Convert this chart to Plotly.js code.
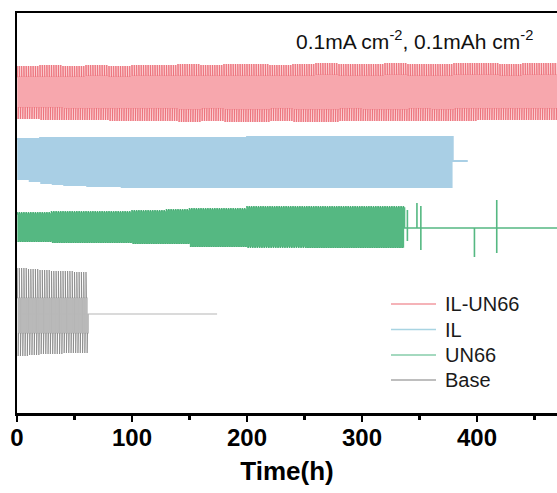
<!DOCTYPE html>
<html><head><meta charset="utf-8">
<script src="https://cdn.plot.ly/plotly-3.0.1.min.js"></script>
<style>html,body{margin:0;padding:0;background:#fff}#chart{width:557px;height:493px}</style>
</head><body><div id="chart"></div>
<script>
// ---- axis ----
const xTickVals = [0, 100, 200, 300, 400];
const xTickText = ['0', '100', '200', '300', '400'];
const xMinorVals = [50, 150, 250, 350, 450];
const seriesNames = ['IL-UN66', 'IL', 'UN66', 'Base'];
const seriesColors = ['#f7a7ad', '#a9cfe5', '#55b882', '#b5b5b5'];
const legendColors = ['#f29aa1', '#a8d4e2', '#86cdaa', '#a8a8a8'];

// one half-cycle (h): 0.1 mAh cm-2 at 0.1 mA cm-2
const halfCycleH = 1;

// ---- IL-UN66 (offset voltage, arbitrary units) ----
const redT      = [0, 20, 40, 60, 80, 100, 120, 140, 160, 180, 200, 220, 240, 260, 280, 300, 320, 340, 360, 380, 400, 420, 440, 460];
const redPeakHi = [347, 348, 347, 348, 347, 348, 348, 349, 348, 349, 349, 348, 349, 350, 349, 349, 350, 349, 349, 350, 350, 349, 350, 350];
const redPlatHi = [336, 336, 336, 337, 336, 337, 337, 337, 337, 337, 337, 337, 337, 338, 337, 337, 338, 337, 337, 338, 338, 337, 338, 338];
const redPlatLo = [306, 306, 305, 305, 305, 305, 305, 304, 305, 304, 304, 305, 304, 304, 305, 304, 304, 305, 304, 305, 305, 305, 305, 305];
const redPeakLo = [294, 293, 293, 293, 292, 292, 292, 291, 292, 291, 291, 292, 291, 291, 292, 292, 292, 292, 292, 292, 293, 293, 293, 293];
const redEnd = 480;

// ---- IL ----
const blueT      = [0, 10, 20, 30, 40, 50, 60, 75, 90, 150, 200, 250, 300, 350];
const bluePeakHi = [275, 275, 276, 276, 276, 276, 276, 276, 276, 276, 277, 277, 277, 277];
const bluePlatHi = [274, 274, 275, 275, 275, 275, 275, 275, 275, 275, 276, 276, 276, 276];
const bluePlatLo = [234, 232, 230, 229, 228, 228, 227, 227, 226, 226, 226, 226, 226, 226];
const bluePeakLo = [233, 231, 229, 228, 227, 227, 226, 226, 225, 225, 225, 225, 225, 225];
const blueEnd = 379;
const blueFlatY = 252;
const blueFlatEnd = 392;

// ---- UN66 ----
const greenT      = [0, 30, 60, 100, 130, 150, 200, 250, 300];
const greenPeakHi = [201, 202, 202, 203, 204, 205, 207, 207, 207];
const greenPlatHi = [199, 200, 200, 201, 202, 203, 205, 205, 205];
const greenPlatLo = [172, 171, 171, 170, 170, 167, 167, 166, 166];
const greenPeakLo = [171, 170, 170, 169, 169, 166, 165, 165, 165];
const greenEnd = 337;
const greenFlatY = 185;
const greenFlatEnd = 480;
const greenSpikeT  = [339.5, 347.8, 351.2, 397.8, 417.2];
const greenSpikeHi = [203, 210, 207, 185, 213];
const greenSpikeLo = [172, 185, 163, 156, 160];

// ---- Base ----
const grayT      = [0, 10, 20, 30, 40, 50];
const grayPeakHi = [145, 144, 143, 142, 142, 141];
const grayPlatHi = [115, 115, 115, 115, 115, 115];
const grayPlatLo = [80, 80, 80, 80, 80, 80];
const grayPeakLo = [57, 58, 59, 59, 60, 60];
const grayEnd = 62;
const grayFlatY = 99;
const grayFlatEnd = 174;

function build(T, pkHi, plHi, plLo, pkLo, tEnd, relax) {
  const main = {x: [], y: []}, spike = {x: [], y: []};
  let seg = 0, k = 0;
  for (let t0 = 0; t0 < tEnd - 1e-9; t0 += halfCycleH, k++) {
    while (seg < T.length - 1 && T[seg + 1] <= t0) seg++;
    const up = k % 2 === 0;
    const pk = up ? pkHi[seg] : pkLo[seg];
    const pl = up ? plHi[seg] : plLo[seg];
    const t1 = Math.min(t0 + halfCycleH, tEnd);
    main.x.push(t0, t0 + relax, t1);
    main.y.push(pk, pl, pl);
    spike.x.push(t0, t0 + relax, null);
    spike.y.push(pk, pl, null);
  }
  return {main, spike};
}

const red = build(redT, redPeakHi, redPlatHi, redPlatLo, redPeakLo, redEnd, 0.15);
const blue = build(blueT, bluePeakHi, bluePlatHi, bluePlatLo, bluePeakLo, blueEnd, 0.1);
blue.main.x.push(blueEnd, blueFlatEnd); blue.main.y.push(blueFlatY, blueFlatY);

const green = build(greenT, greenPeakHi, greenPlatHi, greenPlatLo, greenPeakLo, greenEnd, 0.1);
green.main.x.push(greenEnd); green.main.y.push(greenFlatY);
greenSpikeT.forEach((t, i) => {
  green.main.x.push(t, t, t, t);
  green.main.y.push(greenFlatY, greenSpikeHi[i], greenSpikeLo[i], greenFlatY);
});
green.main.x.push(greenFlatEnd); green.main.y.push(greenFlatY);

const gray = build(grayT, grayPeakHi, grayPlatHi, grayPlatLo, grayPeakLo, grayEnd, 0.25);
gray.main.x.push(grayEnd, grayFlatEnd); gray.main.y.push(grayFlatY, grayFlatY);

function line(d, name, color, width) {
  return {type: 'scatter', mode: 'lines', x: d.x, y: d.y, name: name,
    line: {color: color, width: width}, showlegend: false, hoverinfo: 'skip',
    connectgaps: false};
}

const traces = [
  line(red.main, seriesNames[0], seriesColors[0], 1.8),
  line(red.spike, seriesNames[0], '#e8646e', 0.8),
  line(blue.main, seriesNames[1], seriesColors[1], 1.8),
  line(green.main, seriesNames[2], seriesColors[2], 1.6),
  line(green.spike, seriesNames[2], '#3fa56c', 0.6),
  line(gray.main, seriesNames[3], seriesColors[3], 1.1),
  line(gray.spike, seriesNames[3], '#7a7a7a', 0.7)
];

const fontFam = 'Liberation Sans, Arial, sans-serif';

// legend drawn at pixel positions inside the plot frame
const W = 557, H = 493;
const legendLineX0 = 391, legendLineX1 = 436, legendTextX = 443;
const legendRowY = [304, 329.5, 355, 380];
const shapes = [], annotations = [];
seriesNames.forEach((n, i) => {
  shapes.push({type: 'line', xref: 'paper', yref: 'paper',
    x0: (legendLineX0 - 17) / 540, x1: (legendLineX1 - 17) / 540,
    y0: (413 - legendRowY[i]) / 400, y1: (413 - legendRowY[i]) / 400,
    line: {color: legendColors[i], width: 1.3}});
  annotations.push({xref: 'paper', yref: 'paper',
    x: (legendTextX - 17) / 540, y: (413 - legendRowY[i]) / 400,
    xanchor: 'left', yanchor: 'middle', showarrow: false, text: n,
    font: {family: fontFam, size: 20, color: '#1a1a1a'}});
});
annotations.push({
  xref: 'paper', yref: 'paper', x: (294 - 17) / 540, y: (413 - 40) / 400,
  xanchor: 'left', yanchor: 'middle', showarrow: false,
  text: '0.1mA cm<sup>-2</sup>, 0.1mAh cm<sup>-2</sup>',
  font: {family: fontFam, size: 21, color: '#111'}
});

const layout = {
  width: W, height: H,
  margin: {l: 17, r: 0, t: 13, b: 80, pad: 0},
  paper_bgcolor: '#ffffff', plot_bgcolor: '#ffffff',
  showlegend: false,
  xaxis: {
    range: [0, 469.6], tickmode: 'array', tickvals: xTickVals, ticktext: xTickText,
    ticks: 'outside', ticklen: 6, tickwidth: 2.5, tickcolor: '#000',
    minor: {tickmode: 'array', tickvals: xMinorVals, ticks: 'outside', ticklen: 4, tickwidth: 2.5, tickcolor: '#000'},
    showline: true, linewidth: 2.5, linecolor: '#000', mirror: true,
    showgrid: false, zeroline: false, automargin: true,
    tickfont: {family: fontFam, size: 24, color: '#000', weight: 'bold'},
    ticklabelstandoff: -4,
    title: {text: 'Time(h)', font: {family: fontFam, size: 26, color: '#000', weight: 'bold'}, standoff: 12}
  },
  yaxis: {
    range: [0, 400], showticklabels: false, ticks: '',
    showline: true, linewidth: 2.5, linecolor: '#000', mirror: false,
    showgrid: false, zeroline: false
  },
  shapes: shapes,
  annotations: annotations
};

Plotly.newPlot('chart', traces, layout, {displayModeBar: false, staticPlot: true});
</script>
</body></html>
